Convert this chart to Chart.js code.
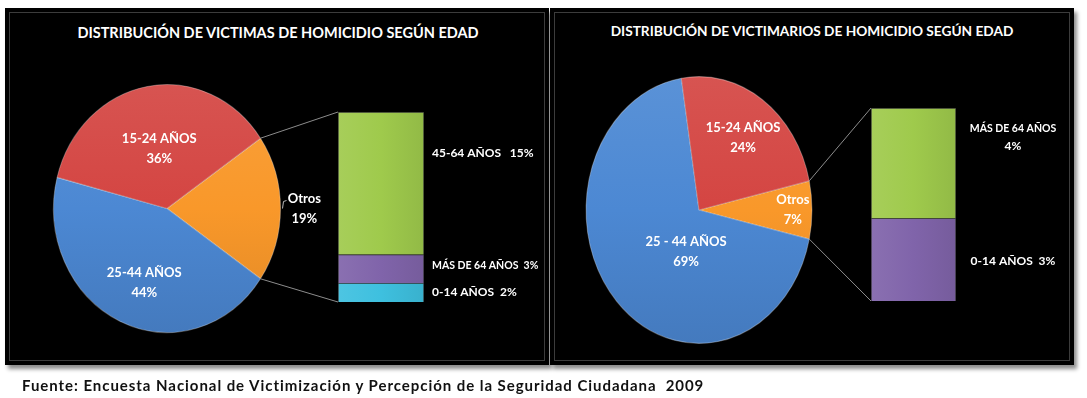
<!DOCTYPE html>
<html>
<head>
<meta charset="utf-8">
<script src="https://cdn.jsdelivr.net/npm/chart.js@4.4.1/dist/chart.umd.min.js"></script>
<style>
  body { margin: 0; background: #fff; width: 1087px; height: 398px; position: relative; overflow: hidden; font-family: Lato, "Open Sans", sans-serif; }
  .panel { position: absolute; background: #000; box-shadow: 3px 4px 4px rgba(0,0,0,0.45); }
  .panel .inner { position: absolute; left: 4px; top: 4px; right: 4px; bottom: 4px; border: 1px solid #3c3c3c; }
  .title { position: absolute; color: #fff; font-weight: bold; white-space: nowrap; transform: translateX(-50%); }
  canvas { position: absolute; left: 0; top: 0; }
  #fuente { position: absolute; left: 22px; top: 376px; font-weight: bold; font-size: 15px; letter-spacing: 0.95px; color: #111; white-space: nowrap; }
</style>
</head>
<body>
<div class="panel" style="left:5px;top:8px;width:544px;height:357px"><div class="inner"></div></div>
<div class="panel" style="left:550px;top:8px;width:524px;height:357px"><div class="inner"></div></div>
<div class="title" style="left:278px;top:24px;font-size:14.5px">DISTRIBUCIÓN DE VICTIMAS DE HOMICIDIO SEGÚN EDAD</div>
<div class="title" style="left:812px;top:22px;font-size:13.7px">DISTRIBUCIÓN DE VICTIMARIOS DE HOMICIDIO SEGÚN EDAD</div>
<canvas id="victimasPie" width="1087" height="398"></canvas>
<canvas id="victimasBar" width="1087" height="398"></canvas>
<canvas id="victimariosPie" width="1087" height="398"></canvas>
<canvas id="victimariosBar" width="1087" height="398"></canvas>
<div id="fuente">Fuente: Encuesta Nacional de Victimización y Percepción de la Seguridad Ciudadana&nbsp; 2009</div>

<script>
// victimas de homicidio
const victimasPieLabels = ["Otros", "25-44 AÑOS", "15-24 AÑOS"];
const victimasPieValues = [19, 44, 36];
const victimasBarLabels = ["0-14 AÑOS", "MÁS DE 64 AÑOS", "45-64 AÑOS"];
const victimasBarValues = [2, 3, 15];

// victimarios de homicidio
const victimariosPieLabels = ["Otros", "25 - 44 AÑOS", "15-24 AÑOS"];
const victimariosPieValues = [7, 69, 24];
const victimariosBarLabels = ["0-14 AÑOS", "MÁS DE 64 AÑOS"];
const victimariosBarValues = [3, 4];

const pieColors = ["#f9982a", "#4c88d3", "#d44542"];
const barColors = ["#3ec0df", "#8064aa", "#9fca4c"];

function shade(hex, f) {
    const n = parseInt(hex.slice(1), 16);
    const ch = [n >> 16, (n >> 8) & 255, n & 255].map(v => {
        const t = f < 0 ? 0 : 255;
        return Math.round(v + (t - v) * Math.abs(f));
    });
    return "rgb(" + ch.join(",") + ")";
}

function pieFill(ctx) {
    const base = pieColors[ctx.dataIndex];
    const a = ctx.chart.chartArea;
    if (!a) return base;
    const g = ctx.chart.ctx.createLinearGradient(0, a.top, 0, a.bottom);
    g.addColorStop(0, shade(base, 0.08));
    g.addColorStop(0.5, base);
    g.addColorStop(1, shade(base, -0.1));
    return g;
}

function barFill(colors) {
    return ctx => {
        const base = colors[ctx.datasetIndex];
        const a = ctx.chart.chartArea;
        if (!a) return base;
        const g = ctx.chart.ctx.createLinearGradient(a.left, 0, a.right, 0);
        g.addColorStop(0, shade(base, 0.08));
        g.addColorStop(0.5, base);
        g.addColorStop(1, shade(base, -0.08));
        return g;
    };
}

// stretch the pie vertically, the original is an ellipse
const ellipsePlugin = {
    id: "ellipse",
    beforeDatasetsDraw(chart, args, opts) {
        const el = chart.getDatasetMeta(0).data[0];
        const ctx = chart.ctx;
        ctx.save();
        ctx.translate(el.x, el.y);
        ctx.scale(1, opts.sy);
        ctx.translate(-el.x, -el.y);
    },
    afterDatasetsDraw(chart) {
        chart.ctx.restore();
    }
};

const sliceLabelPlugin = {
    id: "sliceLabels",
    afterDraw(chart, args, opts) {
        const ctx = chart.ctx;
        const sy = chart.options.plugins.ellipse.sy;
        const ds = chart.data.datasets[0];
        ctx.save();
        ctx.fillStyle = "#fff";
        ctx.font = "bold 13px Lato";
        ctx.textAlign = "center";
        ctx.textBaseline = "middle";
        chart.getDatasetMeta(0).data.forEach((el, i) => {
            const p = opts.place[i];
            const mid = (el.startAngle + el.endAngle) / 2 + p.shift * Math.PI / 180;
            const x = el.x + Math.cos(mid) * el.outerRadius * p.r;
            const y = el.y + Math.sin(mid) * el.outerRadius * p.r * sy;
            ctx.fillText(chart.data.labels[i], x, y - 10);
            ctx.fillText(ds.data[i] + "%", x, y + 10);
            if (p.leader) {
                const ex = el.x + Math.cos(mid) * el.outerRadius;
                ctx.strokeStyle = "#bbb";
                ctx.lineWidth = 1;
                ctx.beginPath();
                ctx.moveTo(ex + 2, y);
                ctx.lineTo(ex + 3, y - 7);
                ctx.lineTo(ex + 6, y - 8);
                ctx.stroke();
            }
        });
        ctx.restore();
    }
};

function makePie(id, labels, values, cx, cy, rx, ry, place) {
    const total = values.reduce((a, b) => a + b, 0);
    return new Chart(document.getElementById(id), {
        type: "pie",
        data: {
            labels: labels,
            datasets: [{
                data: values,
                backgroundColor: pieFill,
                borderColor: "rgba(255,255,255,0.3)",
                borderWidth: 1
            }]
        },
        options: {
            responsive: false,
            animation: false,
            devicePixelRatio: 1,
            rotation: 90 - values[0] / total * 180,
            layout: { padding: { left: cx - rx, right: 1087 - cx - rx, top: cy - rx, bottom: 398 - cy - rx } },
            plugins: {
                legend: { display: false },
                tooltip: { enabled: false },
                ellipse: { sy: ry / rx },
                sliceLabels: { place: place }
            }
        },
        plugins: [ellipsePlugin, sliceLabelPlugin]
    });
}

// bar of pie: stacked column plus the two lines back to the "Otros" slice
const barOfPiePlugin = {
    id: "barOfPie",
    afterDraw(chart, args, opts) {
        const ctx = chart.ctx;
        const metas = chart.data.datasets.map((d, i) => chart.getDatasetMeta(i));
        const bottom = metas[0].data[0];
        const top = metas[metas.length - 1].data[0];
        const left = top.x - top.width / 2;
        const right = top.x + top.width / 2;

        const pie = opts.pie;
        const arc = pie.getDatasetMeta(0).data[0];
        const sy = pie.options.plugins.ellipse.sy;
        const pt = a => [arc.x + Math.cos(a) * arc.outerRadius, arc.y + Math.sin(a) * arc.outerRadius * sy];
        const p1 = pt(arc.startAngle);
        const p2 = pt(arc.endAngle);

        ctx.save();
        ctx.strokeStyle = "#8c8c8c";
        ctx.lineWidth = 1;
        ctx.beginPath();
        ctx.moveTo(p1[0], p1[1]);
        ctx.lineTo(left, top.y);
        ctx.moveTo(p2[0], p2[1]);
        ctx.lineTo(left, bottom.base);
        ctx.stroke();

        ctx.fillStyle = "#fff";
        ctx.textBaseline = "middle";
        ctx.textAlign = opts.align;
        metas.forEach((m, i) => {
            const el = m.data[0];
            const lines = opts.text(chart.data.datasets[i].label, chart.data.datasets[i].data[0]);
            const y = (el.y + el.base) / 2 + opts.dy[i];
            const x = right + opts.dx;
            lines.forEach((t, k) => {
                ctx.font = t.indexOf("MÁS") === 0 ? "bold 10.5px Lato" : "bold 12px Lato";
                ctx.fillText(t, x, y + (k - (lines.length - 1) / 2) * 17);
            });
        });
        ctx.restore();
    }
};

function makeBar(id, labels, values, x0, x1, y0, y1, pie, style) {
    const total = values.reduce((a, b) => a + b, 0);
    return new Chart(document.getElementById(id), {
        type: "bar",
        data: {
            labels: [""],
            datasets: labels.map((l, i) => ({
                label: l,
                data: [values[i]],
                backgroundColor: barFill(style.colors),
                borderColor: "rgba(255,255,255,0.2)",
                borderWidth: 1,
                categoryPercentage: 1,
                barPercentage: 1
            }))
        },
        options: {
            responsive: false,
            animation: false,
            devicePixelRatio: 1,
            layout: { padding: { left: x0, right: 1087 - x1, top: y0, bottom: 398 - y1 } },
            scales: {
                x: { display: false, stacked: true },
                y: { display: false, stacked: true, min: 0, max: total }
            },
            plugins: {
                legend: { display: false },
                tooltip: { enabled: false },
                barOfPie: Object.assign({ pie: pie }, style)
            }
        },
        plugins: [barOfPiePlugin]
    });
}

const victimasPie = makePie("victimasPie", victimasPieLabels, victimasPieValues, 167, 208.5, 114, 124.5, [
    { r: 1.21, shift: 0, leader: true },
    { r: 0.63, shift: -6 },
    { r: 0.49, shift: 2 }
]);
makeBar("victimasBar", victimasBarLabels, victimasBarValues, 338, 424, 112, 302, victimasPie, {
    colors: barColors,
    align: "left",
    dx: 8,
    dy: [0, -3, -30],
    text: (name, v) => [name + (v < 10 ? "  " : "   ") + v + "%"]
});

const victimariosPie = makePie("victimariosPie", victimariosPieLabels, victimariosPieValues, 699, 210, 113.5, 134, [
    { r: 0.83, shift: 0 },
    { r: 0.33, shift: -26.6 },
    { r: 0.67, shift: 1.4 }
]);
makeBar("victimariosBar", victimariosBarLabels, victimariosBarValues, 871, 956, 108, 301, victimariosPie, {
    colors: ["#8064aa", "#9fca4c"],
    align: "center",
    dx: 57,
    dy: [1, -26],
    text: (name, v) => name.length > 10 ? [name, v + "%"] : [name + "  " + v + "%"]
});
</script>
</body>
</html>
